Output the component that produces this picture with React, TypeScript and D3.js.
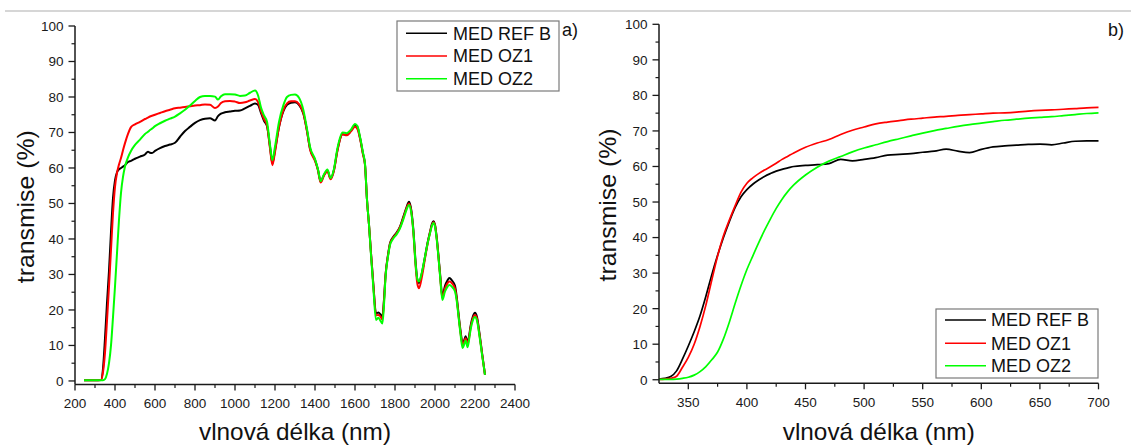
import React from "react";
import * as d3 from "d3";

// ---------- Panel a) data ----------
const wlA = [245, 300, 330, 340, 350, 360, 370, 380, 390, 400, 410, 420, 430, 440, 450, 465, 480, 500, 525, 550, 565, 575, 585, 600, 625, 650, 675, 700, 725, 750, 775, 800, 825, 850, 875, 900, 915, 930, 950, 975, 1000, 1025, 1050, 1075, 1100, 1115, 1130, 1145, 1160, 1175, 1187, 1200, 1220, 1242, 1260, 1280, 1300, 1320, 1342, 1360, 1375, 1400, 1415, 1428, 1445, 1462, 1478, 1495, 1512, 1538, 1558, 1580, 1600, 1612, 1625, 1640, 1650, 1660, 1670, 1680, 1692, 1705, 1717, 1727, 1737, 1745, 1753, 1765, 1775, 1790, 1808, 1825, 1842, 1858, 1870, 1882, 1892, 1903, 1912, 1920, 1935, 1950, 1965, 1975, 1985, 1992, 2000, 2008, 2017, 2025, 2037, 2050, 2062, 2072, 2085, 2100, 2110, 2117, 2128, 2138, 2146, 2153, 2163, 2170, 2178, 2190, 2200, 2210, 2222, 2235, 2250];

const refA = [0.2, 0.2, 0.3, 3.5, 12, 22, 31, 42, 51.5, 56.5, 58.8, 59.6, 60, 60.4, 60.8, 61.7, 62, 62.6, 63.2, 63.8, 64.6, 64.3, 64.2, 64.8, 65.6, 66.2, 66.6, 67.1, 68.8, 70.4, 71.6, 72.7, 73.5, 73.9, 74, 73.4, 74.6, 75.3, 75.7, 75.9, 76.1, 76.2, 76.8, 77.5, 78.2, 77.8, 75.5, 73.3, 71.8, 66, 61.3, 65, 71.5, 76, 77.8, 78.4, 78.5, 77.8, 75.3, 70.5, 65.5, 62.3, 59.5, 56.2, 58, 59.3, 57, 59.5, 65, 69.5, 69.3, 70.5, 72, 71.5, 68.5, 64, 61, 51, 44, 36, 27, 19, 19.3, 18.8, 18, 23, 30, 35.5, 38.8, 40.5, 41.8, 43.5, 46.3, 49, 50.5, 48, 42.5, 33.5, 28.5, 27.6, 30.5, 35, 39.5, 42, 44.3, 45, 44, 40.7, 35.5, 30.5, 24, 26.8, 28.3, 29, 28.3, 26.8, 23, 19.3, 14, 10.6, 11.5, 12.6, 10.8, 12.5, 15.5, 18.3, 19.2, 18, 13.6, 8, 1.7];

const oz1A = [0.2, 0.2, 0.3, 2.5, 8, 17, 26.6, 37, 47.3, 54.7, 58.6, 61, 62.8, 65, 67, 69.6, 71.5, 72.3, 73, 73.8, 74.2, 74.5, 74.7, 75, 75.5, 76, 76.4, 76.8, 77, 77.2, 77.4, 77.6, 77.7, 77.9, 77.8, 76.9, 77.3, 78.3, 78.8, 78.9, 78.7, 78.3, 78.5, 79, 79.4, 78.6, 76, 73.8, 72, 65.5, 60.8, 64.5, 71.5, 76.3, 78.2, 78.8, 78.8, 78, 75.4, 70.3, 65.3, 62, 59.3, 55.9, 57.8, 59.1, 56.8, 59.3, 64.8, 69.5, 69.2, 70.3, 71.6, 71, 68.3, 63.8, 60.8, 51, 44, 36, 26.8, 18.5, 18.6, 18.2, 17.3, 22.5, 30, 35.3, 38.6, 40.3, 41.6, 43.3, 46, 48.7, 50, 47.5, 41.8, 32.5, 27.3, 26.1, 29.5, 34.5, 39.2, 41.8, 44, 44.7, 43.8, 40.5, 35.2, 30, 23.4, 26, 27.5, 28, 27.5, 26, 22.5, 18.8, 13.5, 10, 11, 12, 10.3, 12, 15, 17.8, 18.6, 17.5, 13.2, 7.8, 1.7];

const oz2A = [0.2, 0.2, 0.2, 0.2, 0.5, 2, 5, 10, 18, 26.6, 36, 45.4, 53, 57.5, 60.4, 63, 64.8, 66.5, 68, 69.6, 70.2, 70.7, 71.1, 71.8, 72.6, 73.3, 73.9, 74.5, 75.4, 76.4, 77.6, 78.9, 80, 80.3, 80.3, 80.1, 79.3, 80.2, 80.8, 80.8, 80.7, 80.3, 80.4, 81.2, 81.8, 80.5, 77, 74.8, 73, 66.5, 62.2, 66, 73, 77.7, 80, 80.6, 80.7, 79.8, 76.3, 71, 66, 62.5, 59.6, 56.3, 58.2, 59.6, 57.2, 59.8, 65.5, 70, 69.8, 70.8, 72.4, 71.8, 68.8, 64.3, 61.2, 51, 44, 35.5, 26, 17.2, 17.8, 17, 16.2, 21.5, 29.5, 35, 38.3, 40, 41.3, 43, 45.6, 48.3, 49.6, 47.2, 42, 33, 28.6, 28, 30.8, 35, 39.3, 41.6, 43.8, 44.5, 43.5, 40.2, 35, 29.8, 22.8, 25.2, 26.5, 27, 26.5, 25.2, 22, 18.5, 13, 9.3, 10.3, 11.4, 9.5, 11.5, 14.5, 17.2, 18, 17, 12.8, 7.5, 1.7];

// ---------- Panel b) data ----------
const wlB = [325, 330, 335, 340, 345, 350, 355, 360, 365, 370, 375, 380, 385, 390, 395, 400, 405, 410, 415, 420, 425, 430, 435, 440, 450, 460, 470, 480, 490, 500, 510, 520, 530, 540, 550, 560, 570, 580, 590, 600, 610, 620, 630, 640, 650, 660, 670, 680, 690, 700];

const refB = [0.2, 0.4, 0.9, 2.5, 5.8, 9.5, 13.5, 18, 23.5, 29.5, 35, 40, 44.5, 48.5, 51.5, 53.5, 55, 56.2, 57.2, 58, 58.7, 59.2, 59.6, 60, 60.3, 60.5, 60.8, 62, 61.6, 62, 62.5, 63.2, 63.4, 63.6, 64, 64.3, 64.9, 64.3, 63.9, 64.8, 65.5, 65.8, 66, 66.2, 66.3, 66.1, 66.6, 67.1, 67.2, 67.2];

const oz1B = [0.1, 0.2, 0.4, 1, 3.5, 6.3, 10, 15, 21, 28, 34.8, 40.5, 44.9, 49, 52.8, 55.3, 56.8, 58, 59, 59.9, 60.9, 62, 62.9, 63.8, 65.4, 66.6, 67.6, 69, 70.2, 71.1, 72, 72.5, 72.9, 73.3, 73.6, 73.9, 74.1, 74.4, 74.6, 74.8, 75, 75.1, 75.3, 75.6, 75.8, 75.9, 76.1, 76.3, 76.5, 76.6];

const oz2B = [0.1, 0.1, 0.1, 0.2, 0.4, 0.7, 1.3, 2.3, 3.7, 5.6, 7.8, 11.5, 16.2, 21.5, 26.5, 31, 34.8, 38.5, 42, 45.2, 48.2, 50.8, 53, 54.8, 57.6, 59.8, 61.5, 62.8, 64.1, 65.2, 66.1, 67, 67.8, 68.6, 69.4, 70.1, 70.7, 71.3, 71.8, 72.2, 72.6, 73, 73.3, 73.6, 73.8, 74, 74.3, 74.6, 74.9, 75.1];

const seriesNames = ["MED REF B", "MED OZ1", "MED OZ2"];
const seriesColors = ["#000000", "#ff0000", "#00ff00"];

const yTicks = [0, 10, 20, 30, 40, 50, 60, 70, 80, 90, 100];
const yMinor = [5, 15, 25, 35, 45, 55, 65, 75, 85, 95];
const xTicksA = [200, 400, 600, 800, 1000, 1200, 1400, 1600, 1800, 2000, 2200, 2400];
const xMinorA = [300, 500, 700, 900, 1100, 1300, 1500, 1700, 1900, 2100, 2300];
const xTicksB = [350, 400, 450, 500, 550, 600, 650, 700];
const xMinorB = [375, 425, 475, 525, 575, 625, 675];

const FONT = "'Liberation Sans', Arial, Helvetica, sans-serif";

type PanelProps = {
  xDomain: [number, number];
  xRange: [number, number];
  yRange: [number, number];
  wl: number[];
  series: number[][];
  xTicks: number[];
  xMinor: number[];
  tickLabelBaseline: number;
  strokeW: number;
  yTitleX: number;
  yTitleY: number;
  legend: { x: number; y: number; w: number; h: number; rows: number[]; lx0: number; lx1: number; tx: number };
  tag: string;
  tagX: number;
};

function Panel(p: PanelProps) {
  const x = d3.scaleLinear().domain(p.xDomain).range(p.xRange);
  const y = d3.scaleLinear().domain([-1, 100]).range(p.yRange);
  const x0 = p.xRange[0];
  const x1 = p.xRange[1];
  const yb = p.yRange[0];
  const yt = p.yRange[1];
  const line = d3
    .line<[number, number]>()
    .x((d) => x(d[0]))
    .y((d) => y(d[1]))
    .curve(d3.curveMonotoneX);
  const axisColor = "#1a1a1a";
  return (
    <g>
      {p.series.map((vals, i) => (
        <path
          key={i}
          d={line(p.wl.map((w, j) => [w, vals[j]] as [number, number])) || ""}
          fill="none"
          stroke={seriesColors[i]}
          strokeWidth={p.strokeW}
          strokeLinejoin="round"
        />
      ))}
      <line x1={x0} x2={x0} y1={yt} y2={yb} stroke={axisColor} strokeWidth={1.5} />
      <line x1={x0} x2={x1} y1={yb} y2={yb} stroke={axisColor} strokeWidth={1.5} />
      {yTicks.map((t) => (
        <g key={"y" + t}>
          <line x1={x0 - 6.5} x2={x0} y1={y(t)} y2={y(t)} stroke={axisColor} strokeWidth={1.3} />
          <text x={x0 - 11.5} y={y(t)} dy="0.36em" textAnchor="end" fontSize={13.5} fontFamily={FONT} fill="#1a1a1a">
            {t}
          </text>
        </g>
      ))}
      {yMinor.map((t) => (
        <line key={"ym" + t} x1={x0 - 3.5} x2={x0} y1={y(t)} y2={y(t)} stroke={axisColor} strokeWidth={1.2} />
      ))}
      {p.xTicks.map((t) => (
        <g key={"x" + t}>
          <line x1={x(t)} x2={x(t)} y1={yb} y2={yb + 6} stroke={axisColor} strokeWidth={1.3} />
          <text x={x(t)} y={p.tickLabelBaseline} textAnchor="middle" fontSize={13.5} fontFamily={FONT} fill="#1a1a1a">
            {t}
          </text>
        </g>
      ))}
      {p.xMinor.map((t) => (
        <line key={"xm" + t} x1={x(t)} x2={x(t)} y1={yb} y2={yb + 3.5} stroke={axisColor} strokeWidth={1.2} />
      ))}
      <text
        x={(x0 + x1) / 2}
        y={440}
        textAnchor="middle"
        fontSize={24}
        fontFamily={FONT}
        fill="#111"
        textLength={192}
        lengthAdjust="spacingAndGlyphs"
      >
        vlnová délka (nm)
      </text>
      <text
        transform={`translate(${p.yTitleX},${p.yTitleY}) rotate(-90)`}
        textAnchor="middle"
        fontSize={24}
        fontFamily={FONT}
        fill="#111"
        textLength={153}
        lengthAdjust="spacingAndGlyphs"
      >
        transmise (%)
      </text>
      <rect
        x={p.legend.x}
        y={p.legend.y}
        width={p.legend.w}
        height={p.legend.h}
        fill="#ffffff"
        stroke="#7a7a7a"
        strokeWidth={1.2}
      />
      {seriesNames.map((n, i) => (
        <g key={n}>
          <line
            x1={p.legend.lx0}
            x2={p.legend.lx1}
            y1={p.legend.rows[i]}
            y2={p.legend.rows[i]}
            stroke={seriesColors[i]}
            strokeWidth={1.6}
          />
          <text x={p.legend.tx} y={p.legend.rows[i]} dy="0.36em" fontSize={18} fontFamily={FONT} fill="#111">
            {n}
          </text>
        </g>
      ))}
      <text x={p.tagX} y={36} fontSize={18} fontFamily={FONT} fill="#111">
        {p.tag}
      </text>
    </g>
  );
}

export default function App() {
  return (
    <svg
      width={1131}
      height={445}
      style={{ position: "absolute", left: 0, top: 0, background: "#ffffff" }}
    >
      <rect x={0} y={0} width={1131} height={445} fill="#ffffff" />
      <line x1={5} x2={1131} y1={11} y2={11} stroke="#c8c8c8" strokeWidth={1.5} />
      <Panel
        xDomain={[200, 2400]}
        xRange={[75, 515]}
        yRange={[384.5, 26]}
        wl={wlA}
        series={[refA, oz1A, oz2A]}
        xTicks={xTicksA}
        xMinor={xMinorA}
        tickLabelBaseline={408.3}
        strokeW={2}
        yTitleX={34}
        yTitleY={206.7}
        legend={{ x: 397, y: 21, w: 162, h: 70, rows: [33.3, 56, 78.7], lx0: 406, lx1: 447, tx: 453 }}
        tag="a)"
        tagX={562}
      />
      <Panel
        xDomain={[325, 700]}
        xRange={[659, 1098.5]}
        yRange={[383.3, 24.3]}
        wl={wlB}
        series={[refB, oz1B, oz2B]}
        xTicks={xTicksB}
        xMinor={xMinorB}
        tickLabelBaseline={407.3}
        strokeW={1.7}
        yTitleX={616}
        yTitleY={205}
        legend={{ x: 936, y: 309, w: 162, h: 69, rows: [320, 343.3, 365.7], lx0: 945, lx1: 986, tx: 991 }}
        tag="b)"
        tagX={1108}
      />
    </svg>
  );
}
